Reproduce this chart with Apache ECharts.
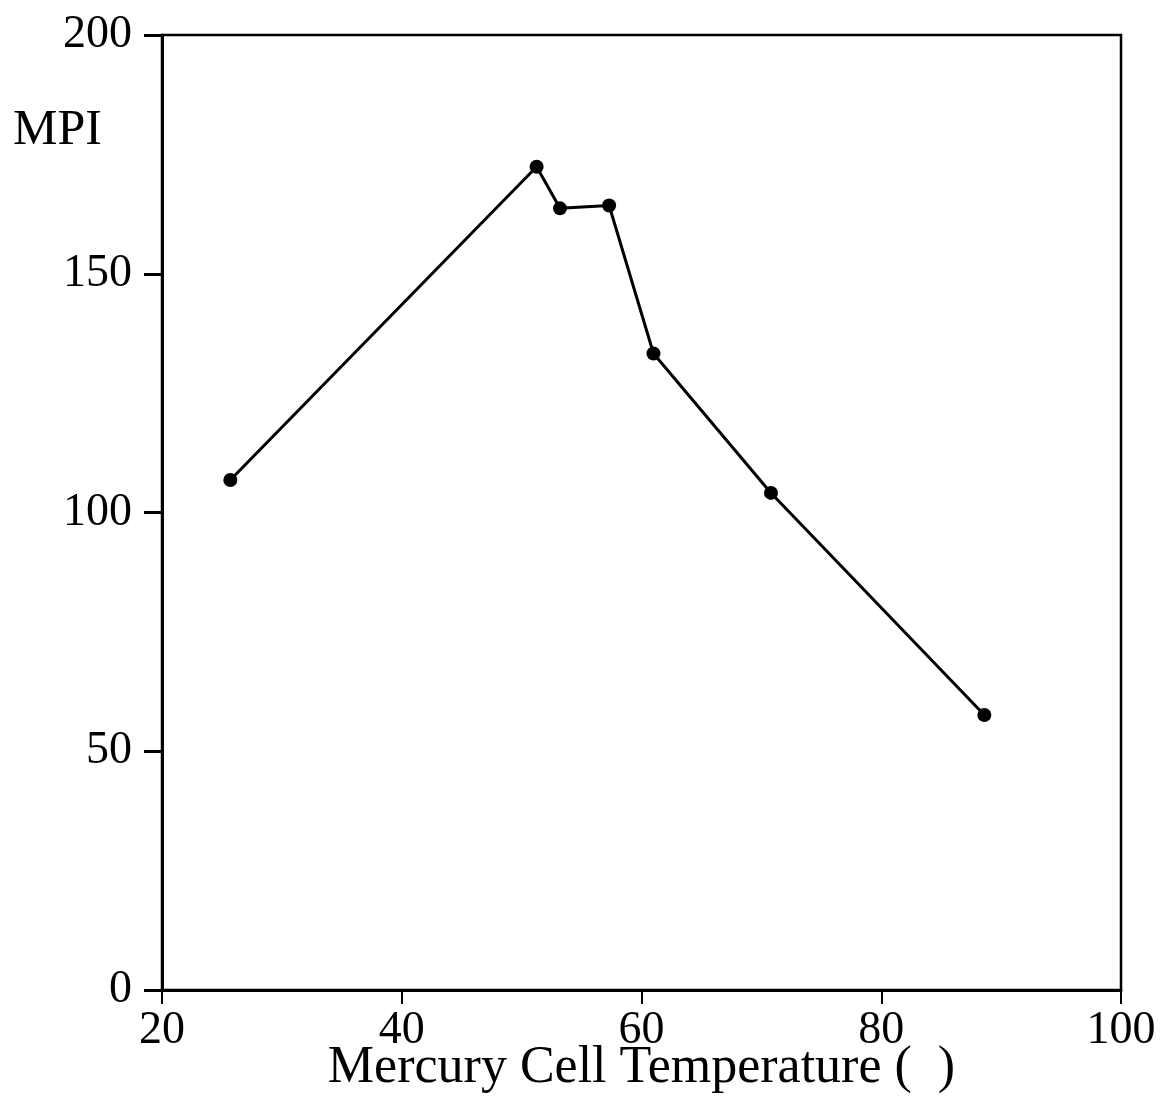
<!DOCTYPE html>
<html>
<head>
<meta charset="utf-8">
<script src="https://cdn.jsdelivr.net/npm/echarts@6/dist/echarts.min.js"></script>
<style>
html,body{margin:0;padding:0;background:#fff;}
#chart{width:1162px;height:1096px;}
</style>
</head>
<body>
<div id="chart"></div>
<script>
// Data
var temperature = [25.7, 51.25, 53.2, 57.3, 61.0, 70.8, 88.6];
var mpi = [106.8, 172.4, 163.7, 164.3, 133.3, 104.1, 57.6];
var xTicks = [20, 40, 60, 80, 100];
var yTicks = [0, 50, 100, 150, 200];
var xTitle = 'Mercury Cell Temperature (  )';
var yTitle = 'MPI';

var points = temperature.map(function (t, i) { return [t, mpi[i]]; });
var FONT = 'Liberation Serif';

var chart = echarts.init(document.getElementById('chart'), null, {renderer: 'canvas'});
chart.setOption({
  backgroundColor: '#ffffff',
  animation: false,
  title: {
    text: yTitle,
    left: 8,
    top: 101,
    textStyle: {fontFamily: FONT, fontSize: 50, fontWeight: 'normal', color: '#000'}
  },
  grid: {
    left: 162, right: 41, top: 35, bottom: 106,
    outerBoundsMode: 'none',
    containLabel: false,
    show: true, borderColor: '#000', borderWidth: 2.5, backgroundColor: 'transparent'
  },
  xAxis: {
    type: 'value',
    min: xTicks[0], max: xTicks[xTicks.length - 1], interval: 20,
    name: xTitle,
    nameLocation: 'middle',
    nameGap: 52,
    nameMoveOverlap: false,
    nameTextStyle: {fontFamily: FONT, fontSize: 52, color: '#000'},
    axisLine: {show: true, lineStyle: {color: '#000', width: 3}},
    axisTick: {show: true, inside: false, length: 14, lineStyle: {color: '#000', width: 2}},
    axisLabel: {fontFamily: FONT, fontSize: 46, color: '#000', margin: 18},
    splitLine: {show: false}
  },
  yAxis: {
    type: 'value',
    min: yTicks[0], max: yTicks[yTicks.length - 1], interval: 50,
    axisLine: {show: true, lineStyle: {color: '#000', width: 3}},
    axisTick: {show: true, inside: false, length: 18, lineStyle: {color: '#000', width: 3}},
    axisLabel: {fontFamily: FONT, fontSize: 46, color: '#000', margin: 30},
    splitLine: {show: false}
  },
  series: [{
    type: 'line',
    data: points,
    symbol: 'circle',
    symbolSize: 14,
    lineStyle: {color: '#000', width: 3},
    itemStyle: {color: '#000'}
  }]
});
</script>
</body>
</html>
